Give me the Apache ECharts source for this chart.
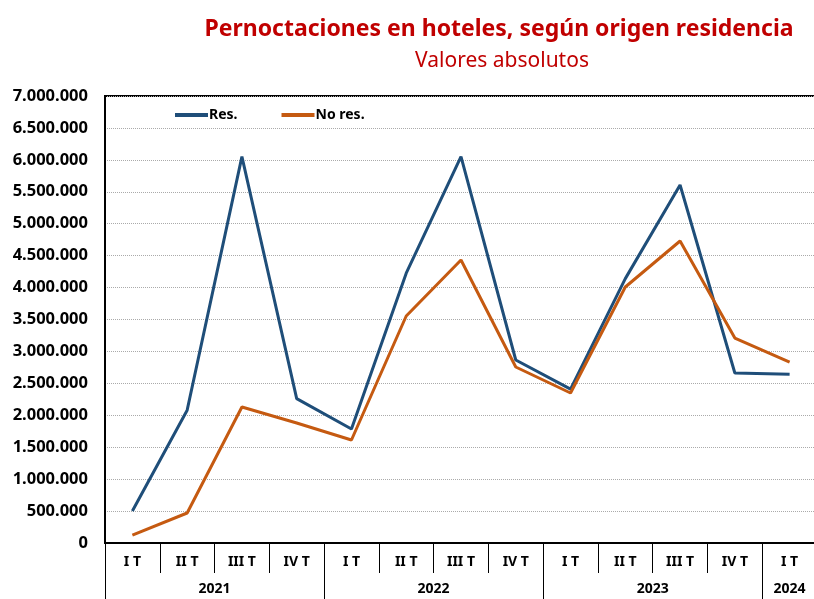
<!DOCTYPE html>
<html>
<head>
<meta charset="utf-8">
<script src="https://cdn.jsdelivr.net/npm/echarts@6/dist/echarts.min.js"></script>
<style>html,body{margin:0;padding:0;background:#fff}#c{width:814px;height:599px}</style>
</head>
<body>
<div id="c"></div>
<script>
const quarters = ['I T','II T','III T','IV T','I T','II T','III T','IV T','I T','II T','III T','IV T','I T'];
const years = ['2021','2022','2023','2024'];
const yearSpans = [4,4,4,1];
const res = [500000,2080000,6050000,2260000,1785000,4225000,6050000,2866000,2410000,4140000,5606000,2662000,2642000];
const noRes = [125000,470000,2130000,1880000,1613000,3555000,4432000,2756000,2349000,4009000,4729000,3210000,2834000];

// build half-step category list for the year row
const yearCats = [];
const yearLabelIdx = {};
const yearTickIdx = {0:true};
let pos = 0;
years.forEach((y,i)=>{
  const center = pos + yearSpans[i];
  yearLabelIdx[center] = y;
  pos += yearSpans[i]*2;
  yearTickIdx[pos] = true;
});
for (let j=0;j<=pos;j++) yearCats.push(yearLabelIdx[j] || '');

const fmt = v => v.toString().replace(/\B(?=(\d{3})+(?!\d))/g, '.');
const FONT = '"Noto Sans", sans-serif';

const chart = echarts.init(document.getElementById('c'));
chart.setOption({
  animation:false,
  title:[
    {text:'Pernoctaciones en hoteles, según origen residencia', left:494, top:13, textAlign:'center',
     textStyle:{color:'#C00000', fontWeight:'bold', fontSize:23, fontFamily:FONT}},
    {text:'Valores absolutos', left:497, top:46, textAlign:'center',
     textStyle:{color:'#C00000', fontWeight:'normal', fontSize:21, fontFamily:FONT}}
  ],
  legend:{
    left:170, top:103, itemWidth:33, itemHeight:4, itemGap:44, icon:'rect',
    textStyle:{fontWeight:'bold', fontSize:14, color:'#000', fontFamily:FONT, padding:[0,0,0,-4]},
    data:['Res.','No res.']
  },
  grid:{left:105, top:96, width:712, bottom:56, outerBoundsMode:'none', containLabel:false,
        show:true, borderColor:'#000', borderWidth:2},
  xAxis:[
    {type:'category', data:quarters, boundaryGap:true, position:'bottom',
     axisLine:{lineStyle:{color:'#000', width:2}},
     axisTick:{show:true, interval:0, length:30, lineStyle:{color:'#000', width:1}},
     axisLabel:{interval:0, margin:12, fontWeight:'bold', fontSize:14, color:'#000', fontFamily:FONT}
    },
    {type:'category', data:yearCats, boundaryGap:false, position:'bottom',
     axisLine:{show:false},
     axisTick:{show:true, length:60, interval:(i)=>!!yearTickIdx[i], lineStyle:{color:'#000', width:1}},
     axisLabel:{interval:(i)=>!!yearLabelIdx[i], margin:39, fontWeight:'bold', fontSize:14, color:'#000', fontFamily:FONT}
    }
  ],
  yAxis:{type:'value', min:0, max:7000000, interval:500000,
    axisLine:{show:true, lineStyle:{color:'#000', width:2}},
    axisTick:{show:false},
    splitLine:{show:true, lineStyle:{color:'#aaa', type:'dotted', width:1}},
    axisLabel:{formatter:fmt, margin:17, fontWeight:'bold', fontSize:16.5, color:'#000', fontFamily:FONT}
  },
  series:[
    {name:'Res.', type:'line', data:res, xAxisIndex:0, showSymbol:false, symbol:'none',
     lineStyle:{color:'#1F4E79', width:3}, itemStyle:{color:'#1F4E79'}},
    {name:'No res.', type:'line', data:noRes, xAxisIndex:0, showSymbol:false, symbol:'none',
     lineStyle:{color:'#C55A11', width:3}, itemStyle:{color:'#C55A11'}}
  ]
});
</script>
</body>
</html>
